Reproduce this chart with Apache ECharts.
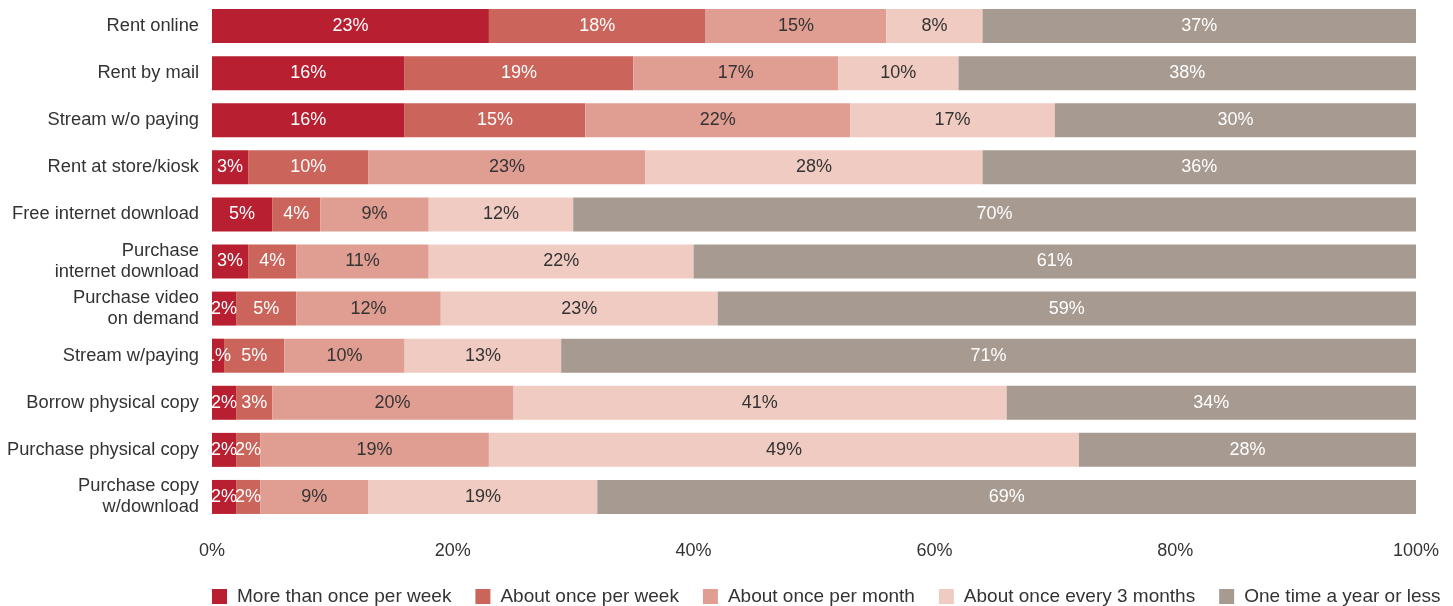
<!DOCTYPE html>
<html><head><meta charset="utf-8">
<script src="https://cdn.jsdelivr.net/npm/echarts@6/dist/echarts.min.js"></script>
<style>html,body{margin:0;padding:0;background:#fff}#c{width:1453px;height:606px}</style>
</head><body><div id="c"></div>
<script>
var categories = ["Rent online","Rent by mail","Stream w/o paying","Rent at store/kiosk","Free internet download","Purchase\ninternet download","Purchase video\non demand","Stream w/paying","Borrow physical copy","Purchase physical copy","Purchase copy\nw/download"];
var seriesNames = ["More than once per week","About once per week","About once per month","About once every 3 months","One time a year or less"];
var moreThanWeekly = [23,16,16,3,5,3,2,1,2,2,2];
var weekly = [18,19,15,10,4,4,5,5,3,2,2];
var monthly = [15,17,22,23,9,11,12,10,20,19,9];
var every3Months = [8,10,17,28,12,22,23,13,41,49,19];
var yearlyOrLess = [37,38,30,36,70,61,59,71,34,28,69];
var xTicks = ["0%","20%","40%","60%","80%","100%"];

var colors = ["#b81f31","#cb655b","#e09e92","#f0cbc1","#a79a90"];
var labelColors = ["#ffffff","#ffffff","#333333","#333333","#ffffff"];
var allData = [moreThanWeekly, weekly, monthly, every3Months, yearlyOrLess];
var FONT = "Liberation Sans, Arial, Helvetica, sans-serif";

var chart = echarts.init(document.getElementById('c'), null, {renderer:'canvas'});
chart.setOption({
  animation:false,
  textStyle:{fontFamily:FONT},
  grid:{left:212, right:37, top:2.5, bottom:85.5, containLabel:false},
  legend:{
    data:seriesNames, left:207, top:582, itemWidth:15, itemHeight:15, itemGap:24,
    icon:'rect',
    textStyle:{fontFamily:FONT, fontSize:19, color:'#333', padding:[0,0,0,5]}
  },
  xAxis:{
    type:'value', min:0, max:100, interval:20,
    axisLine:{show:false}, axisTick:{show:false}, splitLine:{show:false},
    axisLabel:{margin:22, fontSize:18, color:'#333', fontFamily:FONT,
      formatter:function(v){return xTicks[Math.round(v/20)];}}
  },
  yAxis:{
    type:'category', data:categories, inverse:true,
    axisLine:{show:false}, axisTick:{show:false}, splitLine:{show:false},
    axisLabel:{margin:13, fontSize:18.3, color:'#333', fontFamily:FONT, lineHeight:21, align:'right'}
  },
  series: seriesNames.map(function(n,i){
    return {
      name:n, type:'bar', stack:'t', barWidth:34, data:allData[i],
      itemStyle:{color:colors[i]},
      label:{show:true, position:'inside', formatter:'{c}%', color:labelColors[i], fontSize:18, fontFamily:FONT, textBorderWidth:0},
      emphasis:{disabled:true}
    };
  })
});
</script></body></html>
